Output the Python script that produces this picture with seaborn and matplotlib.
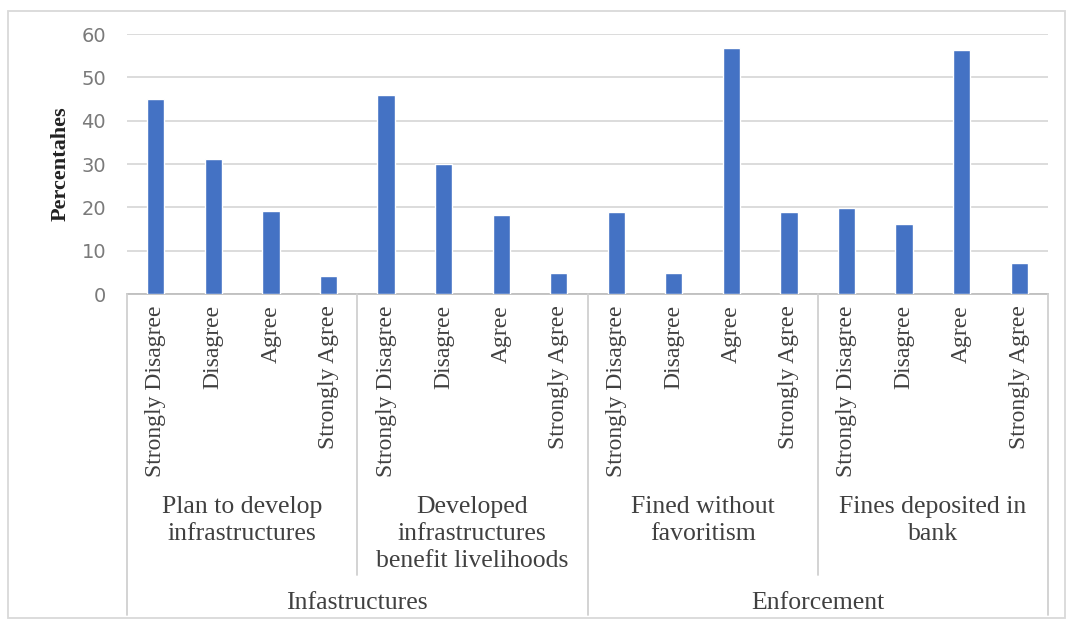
import matplotlib
matplotlib.use("Agg")
import matplotlib.pyplot as plt
from matplotlib.lines import Line2D
from matplotlib.patches import Rectangle
import seaborn as sns
import pandas as pd

# Survey responses (percentages) per statement
responses = ["Strongly Disagree", "Disagree", "Agree", "Strongly Agree"]
statements = [
    "Plan to develop\ninfrastructures",
    "Developed\ninfrastructures\nbenefit livelihoods",
    "Fined without\nfavoritism",
    "Fines deposited in\nbank",
]
themes = ["Infastructures", "Enforcement"]
plan_develop = [45.0, 31.1, 19.1, 4.1]
developed_benefit = [46.0, 30.1, 18.3, 4.9]
fined_fair = [18.9, 4.9, 56.8, 18.9]
fines_bank = [19.8, 16.2, 56.3, 7.2]
series = [plan_develop, developed_benefit, fined_fair, fines_bank]

rows = []
for s_idx, (stmt, vals) in enumerate(zip(statements, series)):
    for r, v in zip(responses, vals):
        rows.append({"slot": f"{s_idx}-{r}", "response": r, "pct": v})
df = pd.DataFrame(rows)

sns.set_theme(style="white")
plt.rcParams["font.family"] = ["Liberation Serif", "DejaVu Serif"]

W, H = 1073, 623
fig = plt.figure(figsize=(W / 100, H / 100), dpi=100)
fig.patch.set_facecolor("white")
x0, x1, y_top, y_bot = 127, 1048, 34, 294
ax = fig.add_axes([x0 / W, 1 - y_bot / H, (x1 - x0) / W, (y_bot - y_top) / H])

sns.barplot(data=df, x="slot", y="pct", order=list(df["slot"]),
            color="#4472C4", saturation=1, width=0.3, ax=ax, zorder=3)

ax.set_ylim(0, 60)
ax.set_xlim(-0.5, len(df) - 0.5)
ax.set_yticks(range(0, 61, 10))
ax.yaxis.grid(True, color="#d9d9d9", linewidth=1.3, zorder=0)
for sp in ["top", "right", "left"]:
    ax.spines[sp].set_visible(False)
ax.spines["bottom"].set_color("#bfbfbf")
ax.spines["bottom"].set_linewidth(1.3)
ax.tick_params(axis="y", length=0, pad=15, labelcolor="#7a7a7a", labelsize=14)
for lab in ax.get_yticklabels():
    lab.set_family("DejaVu Sans")
ax.set_ylabel("Percentahes", fontsize=16, fontweight="bold", color="#222222",
              labelpad=8)

ax.set_xticks(range(len(df)))
ax.set_xticklabels(df["response"], rotation=90, fontsize=17, color="#404040")
ax.tick_params(axis="x", length=0, pad=8)
ax.set_xlabel("")

# hierarchical category axis: dividers and group labels
def fy(py):
    return 1 - py / H

trans = matplotlib.transforms.blended_transform_factory(ax.transData, fig.transFigure)
edges = [-0.5, 3.5, 7.5, 11.5, 15.5]
for i, e in enumerate(edges):
    bottom = 615 if i in (0, 2, 4) else 575
    fig.add_artist(Line2D([e, e], [fy(y_bot), fy(bottom)], transform=trans,
                          color="#d0d0d0", linewidth=1.3))
for i, stmt in enumerate(statements):
    ax.text(4 * i + 1.5, fy(496), stmt, transform=trans, ha="center", va="top",
            fontsize=18.5, color="#404040", linespacing=1.28)
for i, th in enumerate(themes):
    ax.text(8 * i + 3.5, fy(603), th, transform=trans, ha="center", va="center",
            fontsize=18.5, color="#404040")

# chart frame
fig.add_artist(Rectangle((8 / W, 1 - 618 / H), (1065 - 8) / W, (618 - 11) / H,
                         transform=fig.transFigure, fill=False,
                         edgecolor="#d9d9d9", linewidth=1.3))

fig.savefig("out.png", dpi=100)
